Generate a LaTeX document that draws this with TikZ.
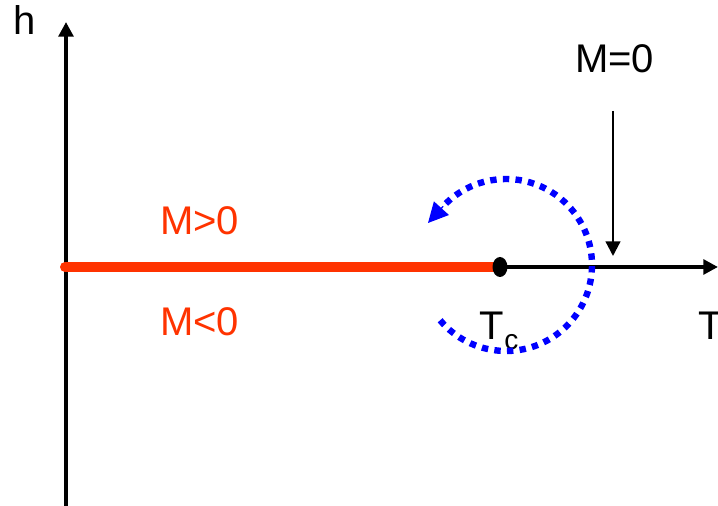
\documentclass[tikz,border=0pt]{standalone}
\usepackage{fontspec}
\setmainfont{Liberation Sans}
\usetikzlibrary{arrows.meta}
\definecolor{phred}{HTML}{FF3300}
\definecolor{phblue}{HTML}{0000FF}
\begin{document}
\begin{tikzpicture}[x=0.75pt,y=0.75pt,
  lbl/.style={inner sep=0pt,anchor=base west,font=\fontsize{30}{36}\selectfont},
  axis/.style={line width=2.8pt,-{Triangle[length=11pt,width=11pt]}},
  dotarc/.style={phblue,line width=4.8pt,dash pattern=on 4.8pt off 4.7pt}]
\useasboundingbox (0,0) rectangle (718,506);
% axes
\coordinate (vbot) at (66,0);
\coordinate (vtop) at (66,484);
\draw[axis] (vbot) -- (vtop);
\coordinate (tc) at (500,239);
\coordinate (hend) at (718,239);
\coordinate (redstart) at (65,239);
\draw[axis] (tc) -- (hend);
\draw[phred,line width=7.5pt,line cap=round] (redstart) -- (tc);
\fill[black] (tc) ellipse (7.5 and 10);
% labels
\node[lbl] (h) at (13,471) {h};
\node[lbl] (mzero) at (575,433) {M=0};
\node[lbl,text=phred] (mpos) at (160,271) {M>0};
\node[lbl,text=phred] (mneg) at (160,170) {M<0};
\node[lbl] (tlab) at (698,166) {T};
\node[lbl] (tclab) at (479,166) {T};
\node[inner sep=0pt,anchor=base west,font=\fontsize{21}{24}\selectfont] (csub) at (504,156) {c};
% M=0 arrow
\coordinate (mstart) at (613,395);
\coordinate (mtip) at (613,250);
\draw[line width=1.7pt,-{Triangle[length=11pt,width=11pt]}] (mstart) -- (mtip);
% blue dotted arc
\coordinate (arcstart) at ({506+86*cos(220)},{241+86*sin(220)});
\draw[dotarc] (arcstart) arc (220:497:86) coordinate (arcend);
\coordinate (arctip) at (428,283);
\draw[phblue,line width=1pt,-{Triangle[length=15pt,width=15pt]}] (arcend) -- (arctip);
\end{tikzpicture}
\end{document}
